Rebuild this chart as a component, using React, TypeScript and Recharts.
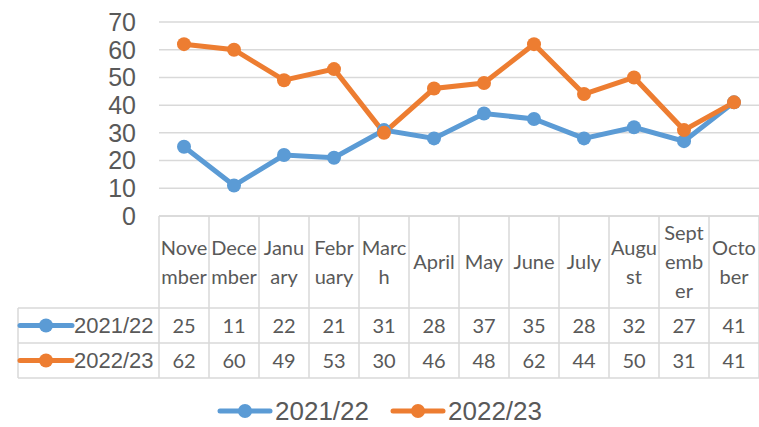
import React from "react";
import {
  LineChart,
  Line,
  XAxis,
  YAxis,
  CartesianGrid,
  Legend,
} from "recharts";

const months = [
  "November",
  "December",
  "January",
  "February",
  "March",
  "April",
  "May",
  "June",
  "July",
  "August",
  "September",
  "October",
];

// how each header cell wraps in the table
const monthLines = [
  ["Nove", "mber"],
  ["Dece", "mber"],
  ["Janu", "ary"],
  ["Febr", "uary"],
  ["Marc", "h"],
  ["April"],
  ["May"],
  ["June"],
  ["July"],
  ["Augu", "st"],
  ["Sept", "emb", "er"],
  ["Octo", "ber"],
];

const series2122 = [25, 11, 22, 21, 31, 28, 37, 35, 28, 32, 27, 41];
const series2223 = [62, 60, 49, 53, 30, 46, 48, 62, 44, 50, 31, 41];

const seriesNames = ["2021/22", "2022/23"];
const seriesColors = ["#5B9BD5", "#ED7D31"];
const yTicks = [0, 10, 20, 30, 40, 50, 60, 70];

const data = months.map((m, i) => ({
  month: m,
  s1: series2122[i],
  s2: series2223[i],
}));

const W = 759;
const H = 427;
const TOP = 22;
const Y_AXIS_W = 159;
const X_AXIS_H = 171;
const LEGEND_H = 40;
const PLOT_BOTTOM = H - X_AXIS_H - LEGEND_H; // 216
const COL_W = (W - Y_AXIS_W) / months.length;
const HEADER_H = 92;
const ROW_H = 35;
const TABLE_LEFT = 18;
const BORDER = "#d9d9d9";
const TEXT = "#595959";
const TABLE_FONT = "Lato, 'Open Sans', sans-serif";
const ARIAL = "'Liberation Sans', Arial, sans-serif";

const TableTick = (props: any) => {
  const { x, payload } = props;
  const index = payload.index;
  const left = x - COL_W / 2;
  const right = x + COL_W / 2;
  const headerBottom = PLOT_BOTTOM + HEADER_H;
  const row1 = headerBottom + ROW_H;
  const row2 = row1 + ROW_H;
  const lines = monthLines[index] || [payload.value];
  const lineH = 29;
  const headerMid = PLOT_BOTTOM + HEADER_H / 2;
  const firstY = headerMid - ((lines.length - 1) * lineH) / 2;

  return (
    <g>
      {index === 0 && (
        <g>
          <line x1={Y_AXIS_W} x2={W} y1={PLOT_BOTTOM} y2={PLOT_BOTTOM} stroke={BORDER} strokeWidth={1.5} />
          <line x1={TABLE_LEFT} x2={W} y1={headerBottom} y2={headerBottom} stroke={BORDER} strokeWidth={1.5} />
          <line x1={TABLE_LEFT} x2={W} y1={row1} y2={row1} stroke={BORDER} strokeWidth={1.5} />
          <line x1={TABLE_LEFT} x2={W} y1={row2} y2={row2} stroke={BORDER} strokeWidth={1.5} />
          <line x1={TABLE_LEFT} x2={TABLE_LEFT} y1={headerBottom} y2={row2} stroke={BORDER} strokeWidth={1.5} />
          <line x1={left} x2={left} y1={PLOT_BOTTOM} y2={row2} stroke={BORDER} strokeWidth={1.5} />
          {seriesNames.map((name, k) => {
            const cy = headerBottom + ROW_H * k + ROW_H / 2;
            return (
              <g key={name}>
                <line x1={TABLE_LEFT + 2} x2={TABLE_LEFT + 54} y1={cy} y2={cy} stroke={seriesColors[k]} strokeWidth={5} strokeLinecap="round" />
                <circle cx={TABLE_LEFT + 28} cy={cy} r={7} fill={seriesColors[k]} />
                <text x={TABLE_LEFT + 56} y={cy} dy="0.35em" fontSize={22} fill={TEXT} fontFamily={ARIAL}>
                  {name}
                </text>
              </g>
            );
          })}
        </g>
      )}
      <line x1={right} x2={right} y1={PLOT_BOTTOM} y2={row2} stroke={BORDER} strokeWidth={1.5} />
      {lines.map((t: string, k: number) => (
        <text key={k} x={x} y={firstY + k * lineH} dy="0.35em" textAnchor="middle" fontSize={20} fill={TEXT} fontFamily={TABLE_FONT}>
          {t}
        </text>
      ))}
      <text x={x} y={headerBottom + ROW_H / 2} dy="0.35em" textAnchor="middle" fontSize={20} fill={TEXT} fontFamily={TABLE_FONT}>
        {series2122[index]}
      </text>
      <text x={x} y={row1 + ROW_H / 2} dy="0.35em" textAnchor="middle" fontSize={20} fill={TEXT} fontFamily={TABLE_FONT}>
        {series2223[index]}
      </text>
    </g>
  );
};

const LegendContent = () => (
  <div
    style={{
      display: "flex",
      justifyContent: "center",
      alignItems: "center",
      gap: 21,
      paddingTop: 9,
      height: 30,
      fontFamily: ARIAL,
      fontSize: 26,
      color: TEXT,
      lineHeight: "30px",
    }}
  >
    {seriesNames.map((name, k) => (
      <div key={name} style={{ display: "flex", alignItems: "center", gap: 2 }}>
        <svg width={56} height={16}>
          <line x1={3} x2={53} y1={8} y2={8} stroke={seriesColors[k]} strokeWidth={5} strokeLinecap="round" />
          <circle cx={28} cy={8} r={7} fill={seriesColors[k]} />
        </svg>
        <span>{name}</span>
      </div>
    ))}
  </div>
);

export default function App() {
  return (
    <div style={{ position: "absolute", left: 0, top: 0, width: W, height: H, background: "#fff" }}>
      <LineChart width={W} height={H} data={data} margin={{ top: TOP, right: 0, left: 0, bottom: 0 }}>
        <CartesianGrid vertical={false} stroke={BORDER} strokeWidth={1.5} />
        <XAxis
          dataKey="month"
          height={X_AXIS_H}
          interval={0}
          axisLine={false}
          tickLine={false}
          padding={{ left: COL_W / 2, right: COL_W / 2 }}
          tick={<TableTick />}
        />
        <YAxis
          width={Y_AXIS_W}
          domain={[0, 70]}
          ticks={yTicks}
          interval={0}
          axisLine={false}
          tickLine={false}
          tickSize={0}
          tickMargin={23}
          tick={{ fontSize: 25, fill: TEXT, fontFamily: ARIAL }}
        />
        <Legend verticalAlign="bottom" height={LEGEND_H} content={<LegendContent />} />
        <Line
          dataKey="s1"
          name={seriesNames[0]}
          stroke={seriesColors[0]}
          strokeWidth={5}
          dot={{ r: 7, fill: seriesColors[0], stroke: seriesColors[0], strokeWidth: 0 }}
          activeDot={false}
          isAnimationActive={false}
        />
        <Line
          dataKey="s2"
          name={seriesNames[1]}
          stroke={seriesColors[1]}
          strokeWidth={5}
          dot={{ r: 7, fill: seriesColors[1], stroke: seriesColors[1], strokeWidth: 0 }}
          activeDot={false}
          isAnimationActive={false}
        />
      </LineChart>
    </div>
  );
}
